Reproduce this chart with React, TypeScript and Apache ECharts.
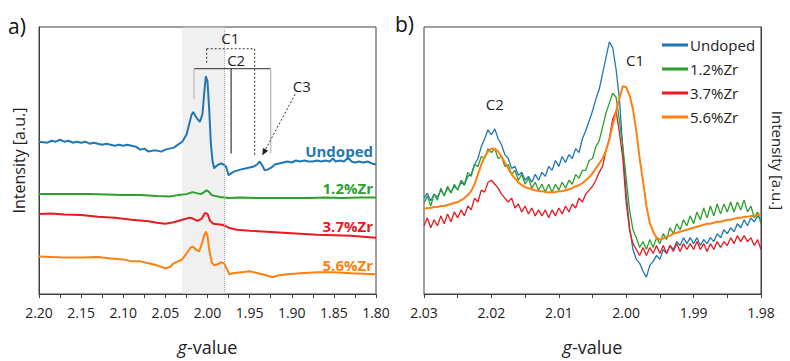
import React, { useEffect, useRef } from "react";
import * as echarts from "echarts";

const FONT = "Open Sans";
const COLORS = { undoped: "#1f77b4", zr12: "#2ca02c", zr37: "#e8191f", zr56: "#ff8010" };
const seriesNames = ["Undoped", "1.2%Zr", "3.7%Zr", "5.6%Zr"];

// Panel a) ticks
const xTicksA = { min: 1.8, max: 2.2, interval: 0.05 };
const xTicksB = { min: 1.98, max: 2.03, interval: 0.01 };

// Panel a) spectra, offset for display: [g-value, intensity a.u.]
const undopedA: number[][] = [
  [2.2, 154], [2.19, 153], [2.185, 155], [2.18, 154], [2.175, 156], [2.17, 154], [2.165, 155], [2.16, 153],
  [2.155, 154], [2.15, 153], [2.145, 154], [2.14, 152], [2.135, 153], [2.13, 152], [2.125, 151], [2.12, 152],
  [2.115, 151], [2.11, 150], [2.105, 151], [2.1, 150], [2.095, 151], [2.09, 150], [2.085, 149], [2.08, 146],
  [2.075, 147], [2.07, 144], [2.065, 145], [2.06, 145], [2.055, 144], [2.05, 146], [2.045, 147], [2.04, 148],
  [2.035, 151], [2.03, 154], [2.025, 161], [2.022, 171], [2.019, 181], [2.017, 184], [2.015, 181], [2.012, 177],
  [2.009, 174], [2.006, 182], [2.004, 202], [2.002, 220], [2.0, 215], [1.998, 187], [1.996, 152], [1.994, 134],
  [1.992, 127], [1.99, 129], [1.987, 131], [1.984, 132], [1.981, 131], [1.978, 129], [1.975, 120], [1.972, 122],
  [1.968, 124], [1.964, 125], [1.96, 126], [1.955, 127], [1.95, 128], [1.945, 129], [1.941, 131], [1.938, 134],
  [1.935, 130], [1.932, 125], [1.928, 126], [1.924, 128], [1.92, 131], [1.915, 132], [1.91, 133], [1.905, 134],
  [1.9, 133], [1.895, 135], [1.89, 134], [1.885, 135], [1.88, 134], [1.875, 134], [1.87, 135], [1.865, 134],
  [1.86, 135], [1.855, 134], [1.851, 137], [1.848, 134], [1.843, 135], [1.838, 134], [1.833, 138], [1.829, 134],
  [1.825, 133], [1.82, 134], [1.815, 133], [1.81, 134], [1.805, 132], [1.8, 131],
];
const zr12A: number[][] = [
  [2.2, 101], [2.18, 101], [2.16, 101], [2.14, 101], [2.12, 100.5], [2.1, 100], [2.08, 100], [2.06, 99],
  [2.045, 98.5], [2.035, 100], [2.025, 101], [2.018, 103], [2.013, 102], [2.008, 101], [2.004, 103], [2.001, 105],
  [1.998, 103], [1.995, 100], [1.99, 99], [1.985, 98], [1.98, 97.5], [1.975, 97], [1.96, 97.5], [1.94, 97],
  [1.92, 97], [1.9, 97], [1.88, 97], [1.86, 97.5], [1.84, 97], [1.82, 97.5], [1.8, 97.5],
];
const zr37A: number[][] = [
  [2.2, 81], [2.185, 81.5], [2.17, 80.5], [2.15, 80], [2.13, 78], [2.11, 77], [2.09, 75], [2.07, 73.5],
  [2.06, 72], [2.05, 71], [2.04, 72.5], [2.03, 75], [2.022, 77], [2.018, 76.5], [2.012, 74], [2.007, 76],
  [2.003, 82], [2.0, 81], [1.997, 74], [1.993, 71], [1.988, 70.5], [1.983, 70], [1.979, 69], [1.975, 67],
  [1.965, 65], [1.95, 64], [1.93, 63], [1.91, 62], [1.89, 61], [1.87, 60], [1.85, 59.5], [1.83, 59],
  [1.815, 58], [1.8, 57],
];
const zr56A: number[][] = [
  [2.2, 38], [2.185, 37.5], [2.17, 37], [2.15, 37], [2.13, 37.5], [2.115, 36], [2.1, 35], [2.09, 33],
  [2.08, 33], [2.07, 31], [2.06, 29], [2.05, 26], [2.045, 27], [2.04, 31], [2.035, 33], [2.03, 35],
  [2.025, 41], [2.02, 47], [2.017, 48], [2.014, 45], [2.01, 43], [2.007, 50], [2.004, 59], [2.002, 63],
  [2.0, 59], [1.998, 45], [1.995, 32], [1.992, 29], [1.988, 30], [1.984, 32], [1.98, 31], [1.977, 25],
  [1.974, 20], [1.97, 21], [1.96, 22], [1.95, 23], [1.94, 21], [1.93, 19], [1.923, 17], [1.915, 19],
  [1.905, 20], [1.89, 21], [1.87, 22], [1.85, 22], [1.83, 21], [1.815, 20.5], [1.8, 20],
];

// Panel b) spectra sampled every 0.0005 from 2.030 to 1.980
const gB = Array.from({ length: 101 }, (_, i) => +(2.03 - i * 0.0005).toFixed(4));
const undopedB = [
  97, 102, 94, 101, 98, 105, 100, 107, 103, 109, 106, 113, 110, 119, 121, 131, 137, 149, 157, 166,
  161, 167, 157, 151, 141, 137, 127, 129, 120, 123, 115, 119, 113, 121, 115, 123, 119, 129, 125, 135,
  129, 139, 133, 141, 137, 147, 143, 157, 165, 175, 185, 197, 207, 223, 239, 255, 249, 227, 197, 147,
  102, 67, 45, 35, 31, 23, 17, 29, 33, 39, 35, 45, 41, 49, 45, 53, 49, 57, 51, 57,
  51, 57, 49, 55, 51, 57, 53, 61, 57, 65, 61, 67, 63, 71, 67, 75, 69, 77, 73, 79, 75,
];
const zr12B = [
  92, 99, 89, 101, 95, 107, 99, 109, 102, 111, 105, 115, 111, 123, 119, 131, 129, 139, 137, 147,
  143, 147, 137, 139, 129, 131, 121, 125, 115, 121, 111, 117, 107, 113, 105, 111, 103, 111, 103, 111,
  105, 113, 107, 115, 111, 121, 117, 125, 125, 135, 137, 149, 155, 169, 183, 193, 203, 199, 175, 149,
  117, 85, 65, 57, 47, 53, 45, 55, 47, 57, 51, 61, 55, 67, 61, 71, 65, 75, 69, 79,
  71, 83, 75, 87, 77, 89, 79, 91, 81, 91, 83, 93, 83, 93, 85, 95, 83, 89, 77, 83, 71,
];
const zr37B = [
  69, 77, 67, 75, 69, 79, 71, 81, 73, 83, 77, 85, 79, 89, 85, 97, 93, 105, 103, 113,
  115, 111, 107, 101, 97, 93, 97, 87, 91, 83, 89, 81, 87, 79, 85, 79, 85, 77, 85, 79,
  87, 81, 89, 83, 91, 87, 97, 93, 101, 105, 109, 115, 123, 129, 145, 157, 177, 185, 163, 137,
  92, 65, 51, 45, 39, 47, 39, 47, 41, 49, 41, 49, 41, 49, 43, 51, 43, 51, 45, 51,
  45, 53, 45, 51, 43, 51, 45, 53, 47, 53, 49, 57, 51, 59, 53, 59, 53, 57, 49, 55, 45,
];
const zr56B = [
  86, 87, 87, 88, 88, 89, 89, 90, 91, 92, 93, 95, 97, 100, 104, 111, 121, 131, 139, 144,
  147, 147, 144, 139, 133, 127, 121, 117, 113, 110, 108, 107, 106, 105, 104, 104, 103, 103, 103, 103,
  104, 104, 105, 106, 107, 109, 110, 112, 115, 118, 122, 127, 132, 137, 145, 156, 171, 185, 198, 210,
  209, 201, 187, 165, 137, 114, 89, 72, 63, 57, 55, 56, 58, 59, 61, 62, 63, 64, 65, 66,
  67, 68, 69, 70, 71, 71, 72, 73, 73, 74, 75, 75, 76, 77, 77, 78, 78, 79, 79, 80, 81,
];

const pair = (vals: number[]) => vals.map((v, i) => [gB[i], v]);

export default function App() {
  const ref = useRef<HTMLDivElement>(null);
  useEffect(() => {
    if (!ref.current) return;
    const chart = echarts.init(ref.current, undefined, { renderer: "svg" });
    const axisColor = "#404040";
    const xAxisCommon = (gridIndex: number, t: { min: number; max: number; interval: number }) => ({
      type: "value",
      gridIndex,
      inverse: true,
      min: t.min,
      max: t.max,
      interval: t.interval,
      name: "{i|g}-value",
      nameLocation: "middle",
      nameGap: 44,
      nameTextStyle: {
        fontFamily: FONT,
        fontSize: 18,
        color: "#222",
        rich: { i: { fontFamily: FONT, fontSize: 18, fontStyle: "italic", color: "#222" } },
      },
      axisLine: { show: true, onZero: false, lineStyle: { color: axisColor, width: 1 } },
      axisTick: { show: true, length: 4, lineStyle: { color: axisColor } },
      minorTick: { show: true, splitNumber: 2, length: 4, lineStyle: { color: axisColor } },
      splitLine: { show: false },
      axisLabel: {
        fontFamily: FONT,
        fontSize: 14,
        color: "#222",
        margin: 11,
        formatter: (v: number) => v.toFixed(2),
      },
    });
    const yAxisCommon = (gridIndex: number, position: string) => ({
      type: "value",
      gridIndex,
      position,
      min: 0,
      max: 270,
      name: "Intensity [a.u.]",
      nameLocation: "middle",
      nameGap: position === "left" ? 12 : 9,
      nameRotate: position === "left" ? 90 : -90,
      nameTextStyle: { fontFamily: FONT, fontSize: position === "left" ? 16 : 15, color: "#222" },
      axisLine: { show: true, lineStyle: { color: axisColor } },
      axisTick: { show: false },
      axisLabel: { show: false },
      splitLine: { show: false },
    });
    const line = (name: string, data: number[][], color: string, xi: number, width: number, z = 2) => ({
      name,
      type: "line",
      xAxisIndex: xi,
      yAxisIndex: xi,
      data,
      showSymbol: false,
      symbol: "none",
      z,
      lineStyle: { color, width },
      itemStyle: { color },
    });

    const option: any = {
      animation: false,
      textStyle: { fontFamily: FONT },
      grid: [
        { left: 39, top: 27, width: 337, height: 270, show: true, borderColor: axisColor, borderWidth: 1, backgroundColor: "transparent" },
        { left: 424, top: 27, width: 337, height: 270, show: true, borderColor: axisColor, borderWidth: 1, backgroundColor: "transparent" },
      ],
      xAxis: [xAxisCommon(0, xTicksA), xAxisCommon(1, xTicksB)],
      yAxis: [yAxisCommon(0, "left"), yAxisCommon(1, "right")],
      legend: {
        data: seriesNames,
        orient: "vertical",
        left: 662,
        top: 36,
        padding: 0,
        icon: "rect",
        itemWidth: 26,
        itemHeight: 3,
        itemGap: 6,
        textStyle: { fontFamily: FONT, fontSize: 15, color: "#222", lineHeight: 18, padding: [0, 0, 0, -3] },
      },
      series: [
        line("a " + seriesNames[0], undopedA, COLORS.undoped, 0, 2),
        line("a " + seriesNames[1], zr12A, COLORS.zr12, 0, 2),
        line("a " + seriesNames[2], zr37A, COLORS.zr37, 0, 2),
        line("a " + seriesNames[3], zr56A, COLORS.zr56, 0, 2),
        {
          type: "line",
          xAxisIndex: 0,
          yAxisIndex: 0,
          data: [],
          z: 10,
          markArea: {
            silent: true,
            itemStyle: { color: "rgba(222,222,222,0.45)" },
            data: [[{ xAxis: 2.03 }, { xAxis: 1.98 }]],
          },
          markLine: {
            silent: true,
            symbol: "none",
            label: { show: false },
            lineStyle: { type: "dotted", color: "#aaa", width: 1 },
            data: [{ xAxis: 1.98 }],
          },
        },
        line(seriesNames[0], pair(undopedB), COLORS.undoped, 1, 1.3),
        line(seriesNames[1], pair(zr12B), COLORS.zr12, 1, 1.3),
        line(seriesNames[2], pair(zr37B), COLORS.zr37, 1, 1.3),
        line(seriesNames[3], pair(zr56B), COLORS.zr56, 1, 2),
      ],
    };
    chart.setOption(option);

    const p = (g: number, v: number, gi = 0) => chart.convertToPixel({ gridIndex: gi } as any, [g, v]) as number[];
    const seg = (a: number[], b: number[], stroke: string, dash?: number[], w = 1) => ({
      type: "line",
      z: 50,
      shape: { x1: a[0], y1: a[1], x2: b[0], y2: b[1] },
      style: { stroke, lineWidth: w, lineDash: dash },
    });
    const txt = (pt: number[], text: string, fill: string, opts: any = {}) => ({
      type: "text",
      z: 50,
      x: pt[0],
      y: pt[1],
      style: {
        text,
        fill,
        fontFamily: FONT,
        fontSize: 15,
        align: "center",
        verticalAlign: "middle",
        ...opts,
      },
    });

    const dotted = [2, 2];
    // C3 arrow
    const a0 = p(1.896, 202);
    const a1 = p(1.935, 140);
    const dx = a1[0] - a0[0];
    const dy = a1[1] - a0[1];
    const len = Math.hypot(dx, dy);
    const ux = dx / len;
    const uy = dy / len;
    const head = 7;
    const hw = 3;
    const base = [a1[0] - ux * head, a1[1] - uy * head];
    const arrowHead = {
      type: "polygon",
      z: 50,
      shape: {
        points: [
          a1,
          [base[0] - uy * hw, base[1] + ux * hw],
          [base[0] + uy * hw, base[1] - ux * hw],
        ],
      },
      style: { fill: "#222" },
    };

    const labelEnd = (v: number) => {
      const q = p(1.8, v);
      return [q[0] - 3, q[1]];
    };

    chart.setOption({
      graphic: [
        // C1 dotted bracket
        seg(p(2.001, 248), p(1.944, 248), "#333", dotted),
        seg(p(2.001, 248), p(2.001, 232), "#333", dotted),
        seg(p(1.944, 248), p(1.944, 140), "#333", dotted),
        // C2 bracket
        seg(p(2.016, 228), p(1.925, 228), "#555", undefined, 1.3),
        seg(p(2.016, 228), p(2.016, 197), "#bbb", undefined, 1.3),
        seg(p(1.925, 228), p(1.925, 142), "#bbb", undefined, 1.3),
        seg(p(1.972, 228), p(1.972, 142), "#111", undefined, 1),
        // C3 arrow
        seg(a0, base, "#333", dotted),
        arrowHead,
        txt(p(1.973, 259), "C1", "#222"),
        txt(p(1.966, 237), "C2", "#222"),
        txt(p(1.888, 210), "C3", "#222"),
        // series labels panel a
        txt(labelEnd(145), seriesNames[0], COLORS.undoped, { align: "right", fontWeight: "bold" }),
        txt(labelEnd(107), seriesNames[1], COLORS.zr12, { align: "right", fontWeight: "bold" }),
        txt(labelEnd(69), seriesNames[2], COLORS.zr37, { align: "right", fontWeight: "bold" }),
        txt(labelEnd(29), seriesNames[3], COLORS.zr56, { align: "right", fontWeight: "bold" }),
        // panel b peak labels
        txt(p(1.9987, 237, 1), "C1", "#222"),
        txt(p(2.0195, 192, 1), "C2", "#222"),
        // panel tags
        { type: "text", z: 50, x: 8, y: 15, style: { text: "a)", fill: "#111", fontFamily: FONT, fontSize: 21 } },
        { type: "text", z: 50, x: 395, y: 13, style: { text: "b)", fill: "#111", fontFamily: FONT, fontSize: 21 } },
      ],
    });

    return () => chart.dispose();
  }, []);

  return (
    <div
      ref={ref}
      style={{ position: "fixed", left: 0, top: 0, width: 790, height: 361, background: "#fff" }}
    />
  );
}
